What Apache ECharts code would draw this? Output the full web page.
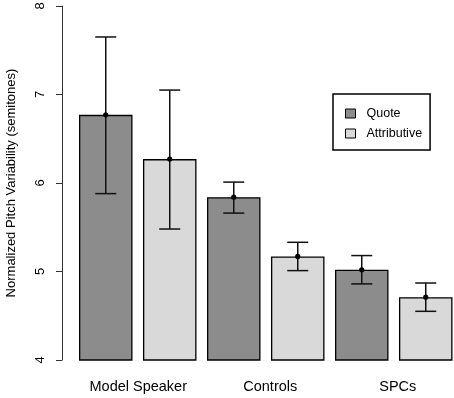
<!DOCTYPE html>
<html>
<head>
<meta charset="utf-8">
<script src="https://cdn.jsdelivr.net/npm/echarts@6/dist/echarts.min.js"></script>
<style>
  html, body { margin: 0; padding: 0; background: #fff; overflow: hidden; }
  #chart { width: 458px; height: 398px; }
</style>
</head>
<body>
<div id="chart"></div>
<script>
const categories = ['Model Speaker', 'Controls', 'SPCs']
const quoteMean = [6.77, 5.84, 5.02]
const quoteLow = [5.88, 5.66, 4.86]
const quoteHigh = [7.65, 6.01, 5.18]
const attrMean = [6.27, 5.17, 4.71]
const attrLow = [5.48, 5.01, 4.55]
const attrHigh = [7.05, 5.33, 4.87]
const yTicks = [4, 5, 6, 7, 8]

const FONT = '"Liberation Sans", Arial, Helvetica, sans-serif'

// error bar + mean dot, shifted to the left (-1) or right (+1) bar of the group
function errSeries(mean, low, high, side) {
  return {
    type: 'custom',
    z: 10,
    silent: true,
    data: categories.map((c, i) => [i, low[i], high[i], mean[i]]),
    encode: { x: 0, y: [1, 2] },
    renderItem: (params, api) => {
      const i = api.value(0)
      const off = side * api.size([1, 0])[0] / 4
      const top = api.coord([i, api.value(2)])
      const bot = api.coord([i, api.value(1)])
      const mid = api.coord([i, api.value(3)])
      const x = top[0] + off
      const cap = 10.5
      const st = { stroke: '#111', lineWidth: 1.5 }
      return {
        type: 'group',
        children: [
          { type: 'line', shape: { x1: x, y1: top[1], x2: x, y2: bot[1] }, style: st },
          { type: 'line', shape: { x1: x - cap, y1: top[1], x2: x + cap, y2: top[1] }, style: st },
          { type: 'line', shape: { x1: x - cap, y1: bot[1], x2: x + cap, y2: bot[1] }, style: st },
          { type: 'circle', shape: { cx: x, cy: mid[1], r: 2.6 }, style: { fill: '#000' } },
        ],
      }
    },
  }
}

const chart = echarts.init(document.getElementById('chart'))
chart.setOption({
  animation: false,
  backgroundColor: '#fff',
  textStyle: { fontFamily: FONT },
  grid: { left: 73.75, right: 0.25, top: 6, bottom: 38, outerBoundsMode: 'none', containLabel: false },
  legend: {
    data: ['Quote', 'Attributive'],
    orient: 'vertical',
    left: 333,
    top: 94,
    padding: [13, 8, 10, 12],
    itemWidth: 10,
    itemHeight: 9,
    itemGap: 7,
    icon: 'rect',
    borderColor: '#000',
    borderWidth: 1.5,
    itemStyle: { borderColor: '#000', borderWidth: 1 },
    textStyle: { fontSize: 12.5, color: '#000', fontFamily: FONT, padding: [0, 0, 0, 6] },
  },
  xAxis: {
    type: 'category',
    data: categories,
    axisLine: { show: false },
    axisTick: { show: false },
    axisLabel: {
      interval: 0,
      fontSize: 14.5,
      color: '#000',
      margin: 19,
      fontFamily: FONT,
      formatter: (v, i) => ['{a|', '{b|', '{c|'][i] + v + '}',
      rich: {
        a: { fontSize: 14.5, color: '#000', padding: [0, 0, 0, 1] },
        b: { fontSize: 14.5, color: '#000', padding: [0, 0, 0, 9] },
        c: { fontSize: 14.5, color: '#000', padding: [0, 0, 0, 8] },
      },
    },
  },
  yAxis: {
    type: 'value',
    min: yTicks[0],
    max: yTicks[yTicks.length - 1],
    interval: 1,
    offset: 11.75,
    name: 'Normalized Pitch Variability (semitones)',
    nameLocation: 'middle',
    nameGap: 44,
    nameTextStyle: { fontSize: 13, color: '#000', fontFamily: FONT },
    splitLine: { show: false },
    axisLine: { show: true, lineStyle: { color: '#333', width: 1 } },
    axisTick: { show: true, length: 6, lineStyle: { color: '#333' } },
    axisLabel: {
      rotate: 90,
      align: 'center',
      verticalAlign: 'top',
      fontSize: 13,
      color: '#000',
      margin: 28,
      fontFamily: FONT,
    },
  },
  series: [
    {
      name: 'Quote',
      type: 'bar',
      data: quoteMean,
      barWidth: 53.5,
      barGap: '19.6%',
      itemStyle: { color: '#8c8c8c', borderColor: '#000', borderWidth: 1.3 },
    },
    {
      name: 'Attributive',
      type: 'bar',
      data: attrMean,
      barWidth: 53.5,
      barGap: '19.6%',
      itemStyle: { color: '#d9d9d9', borderColor: '#000', borderWidth: 1.3 },
    },
    errSeries(quoteMean, quoteLow, quoteHigh, -1),
    errSeries(attrMean, attrLow, attrHigh, 1),
  ],
})
</script>
</body>
</html>
